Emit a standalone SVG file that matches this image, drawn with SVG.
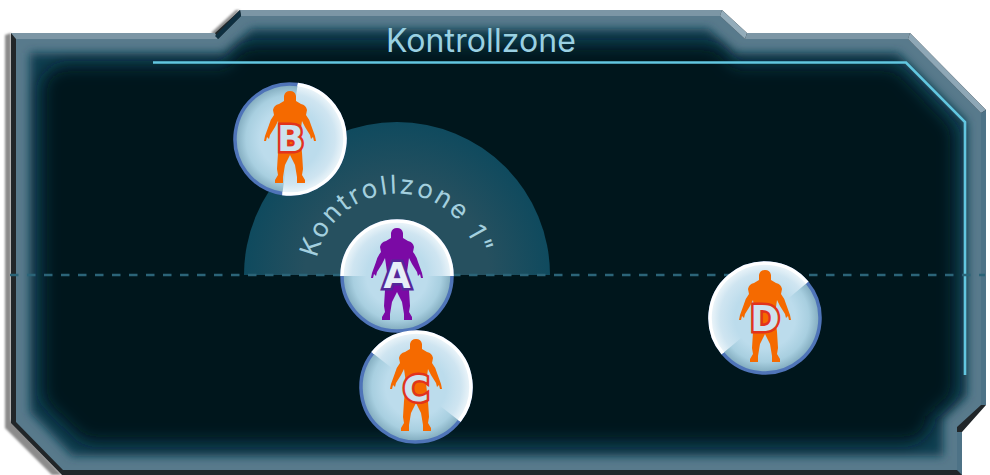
<svg xmlns="http://www.w3.org/2000/svg" xmlns:xlink="http://www.w3.org/1999/xlink" width="990" height="475" viewBox="0 0 990 475">
<style>
.title{font-family:"Inter","Liberation Sans",sans-serif;font-weight:400;fill:#9ad0e2}
.enemy .fig{fill:#f56a00}
.enemy .letter{fill:#cde2ee;stroke:#e2331c}
.own .fig{fill:#7b0aa5}
.own .letter{fill:#e6eff7;stroke:#55289a}
.letter{stroke-width:5;paint-order:stroke;stroke-linejoin:miter;text-anchor:middle;font-family:"DejaVu Sans",sans-serif;font-weight:700;font-size:35px}
</style>
<defs>
<clipPath id="panelClip"><polygon points="16,39 218,39 241,16 720,16 745,39 908,39 981,113 981,405 957,427 957,470 63,470 16,422"/></clipPath>
<clipPath id="litHalf"><rect x="-60" y="-60" width="120" height="60"/></clipPath>
<filter id="blurA" filterUnits="userSpaceOnUse" x="-60" y="-60" width="1110" height="600"><feGaussianBlur stdDeviation="5"/></filter>
<filter id="blurB" filterUnits="userSpaceOnUse" x="-60" y="-60" width="1110" height="600"><feGaussianBlur stdDeviation="8"/></filter>
<filter id="shadow" x="-5%" y="-5%" width="110%" height="110%"><feGaussianBlur stdDeviation="0.8"/></filter>
<radialGradient id="shade" gradientUnits="userSpaceOnUse" cx="0" cy="0" r="55"><stop offset="0.55" stop-color="#bcdcec"/><stop offset="0.8" stop-color="#a8cfe0"/><stop offset="1" stop-color="#7fa9bc"/></radialGradient>
<radialGradient id="lit" gradientUnits="userSpaceOnUse" cx="0" cy="0" r="55"><stop offset="0.55" stop-color="#bcdcec"/><stop offset="0.82" stop-color="#cfe5f1"/><stop offset="1" stop-color="#eef6fa"/></radialGradient>
<radialGradient id="zone" gradientUnits="userSpaceOnUse" cx="397" cy="275" r="153"><stop offset="0.6" stop-color="#26505f"/><stop offset="1" stop-color="#0f4a5e"/></radialGradient>
<g id="face">
<circle r="55" fill="url(#shade)" stroke="#4f74b8" stroke-width="3.5"/>
<g clip-path="url(#litHalf)"><circle r="55" fill="url(#lit)" stroke="#ffffff" stroke-width="3.5"/></g>
</g>
<path id="figure" d="M0,-48 Q5,-48 6,-43 L6,-38 L11,-35 Q16,-34 17,-29 L16,-24 Q20,-19 21,-14 L25,-3 L26,2 L24,2 L23,-2 L21,0 L20,-4 L15,-12 L12,-18 L10,-4 L12,14 L13,30 L12,36 L15,41 L15,44 L7,44 L7,38 L5,26 L1,18 L0,16 L-1,18 L-5,26 L-7,38 L-7,44 L-15,44 L-15,41 L-12,36 L-13,30 L-12,14 L-10,-4 L-12,-18 L-15,-12 L-20,-4 L-21,0 L-23,-2 L-24,2 L-26,2 L-25,-3 L-21,-14 Q-20,-19 -16,-24 L-17,-29 Q-16,-34 -11,-35 L-6,-38 L-6,-43 Q-5,-48 0,-48 Z"/>
<path id="arc" d="M316.9,258 A82,82 0 0 1 477.1,258"/>
</defs>

<g id="frame">
<polygon points="5,35 11,33 11,420 62,475 52,475 5,428" fill="#8b8b8b" filter="url(#shadow)"/>
<polygon points="211,33 236,10 240,10 215,36" fill="#8b8b8b" filter="url(#shadow)"/>
<polygon points="11,33 215,33 240,10 722,10 747,33 910,33 986,110 986,405 962,432 962,475 62,475 11,423" fill="#212629"/>
<polygon points="16,39 218,39 241,16 720,16 745,39 908,39 981,113 981,405 957,427 957,470 63,470 16,422" fill="#587a8c"/>
<polygon points="11,33 215,33 218,39 16,39" fill="#7c96a5"/>
<polygon points="240,10 722,10 720,16 241,16" fill="#7c96a5"/>
<polygon points="722,10 747,33 745,39 720,16" fill="#93acba"/>
<polygon points="747,33 910,33 908,39 745,39" fill="#7c96a5"/>
<polygon points="910,33 986,110 981,113 908,39" fill="#8ea7b6"/>
<polygon points="986,110 986,405 981,405 981,113" fill="#4d7286"/>
<polygon points="957,432 962,432 962,475 957,470" fill="#4d7286"/>
<polygon points="215,36 240,10 241,16 218,39" fill="#0e2f40"/>
<g clip-path="url(#panelClip)">
<polygon points="30,53 225,53 252,29 708,29 735,53 898,53 967,122 967,396 943,418 943,456 72,456 30,412" fill="#0d3d50" filter="url(#blurA)"/>
<polygon points="67,91 235,91 255,70 705,70 725,91 885,91 930,138 930,385 905,405 905,417 95,417 67,390" fill="#02181f" stroke="#02181f" stroke-width="50" stroke-linejoin="round" filter="url(#blurB)"/>
</g>
<polyline points="153,62.5 906,62.5 965,122 965,375" fill="none" stroke="#62c6e0" stroke-width="2.6"/>
<text class="title" x="481" y="52" font-size="32" text-anchor="middle" textLength="190" lengthAdjust="spacing">Kontrollzone</text>
</g>

<g id="zone-area">
<path d="M244,275 A153,153 0 0 1 550,275 Z" fill="url(#zone)"/>
<text class="title" font-size="26" style="fill:#a3cfde"><textPath xlink:href="#arc" href="#arc" textLength="218" lengthAdjust="spacing">Kontrollzone 1"</textPath></text>
</g>

<g id="connectors">
<line x1="10" y1="275" x2="985" y2="275" stroke="#2b6478" stroke-width="2.4" stroke-dasharray="8.5 8.5"/>
</g>

<g id="node-b" class="enemy">
<use href="#face" transform="translate(290,139) rotate(98)"/>
<use href="#figure" class="fig" transform="translate(290,139)"/>
<text class="letter" x="290.5" y="151">B</text>
</g>
<g id="node-a" class="own">
<use href="#face" transform="translate(397,276)"/>
<use href="#figure" class="fig" transform="translate(397,276)"/>
<text class="letter" x="397" y="288">A</text>
</g>
<g id="node-c" class="enemy">
<use href="#face" transform="translate(416,387) rotate(38)"/>
<use href="#figure" class="fig" transform="translate(416,387)"/>
<text class="letter" x="416" y="401">C</text>
</g>
<g id="node-d" class="enemy">
<use href="#face" transform="translate(765,318) rotate(-40)"/>
<use href="#figure" class="fig" transform="translate(765,318)"/>
<text class="letter" x="765" y="331">D</text>
</g>
</svg>
